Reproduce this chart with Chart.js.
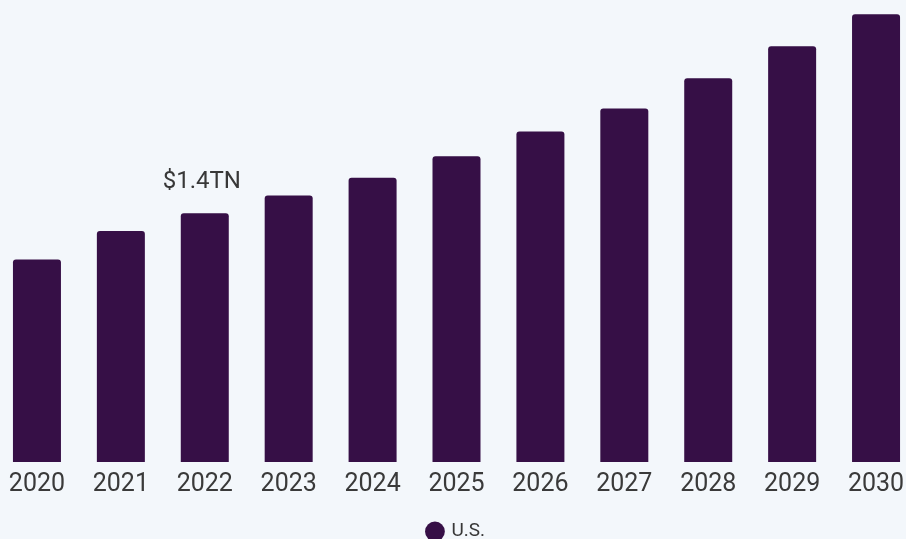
<!DOCTYPE html>
<html>
<head>
<meta charset="utf-8">
<script src="https://cdn.jsdelivr.net/npm/chart.js@4"></script>
<style>
  html, body { margin: 0; padding: 0; background: #f3f7fb; overflow: hidden; }
  #wrap { position: absolute; left: -5px; top: 0; width: 923px; height: 555px; }
</style>
</head>
<body>
<div id="wrap"><canvas id="chart"></canvas></div>
<script>
var years = ["2020", "2021", "2022", "2023", "2024", "2025", "2026", "2027", "2028", "2029", "2030"];
var usMarket = [1.14, 1.30, 1.40, 1.50, 1.60, 1.72, 1.86, 1.99, 2.16, 2.34, 2.52];
var seriesName = "U.S.";
var calloutIndex = 2;
var calloutText = "$1.4TN";

// draws the single value callout above one bar
var calloutPlugin = {
  id: "callout",
  afterDatasetsDraw: function (chart) {
    var ctx = chart.ctx;
    var x = chart.scales.x.getPixelForValue(calloutIndex);
    var y = chart.scales.y.getPixelForValue(usMarket[calloutIndex]);
    ctx.save();
    ctx.font = "24px Roboto";
    ctx.fillStyle = "#383838";
    ctx.textAlign = "center";
    ctx.textBaseline = "bottom";
    ctx.fillText(calloutText, x - 3, y - 19);
    ctx.restore();
  }
};

new Chart(document.getElementById("chart"), {
  type: "bar",
  data: {
    labels: years,
    datasets: [{
      label: seriesName,
      data: usMarket,
      backgroundColor: "#360f46",
      borderRadius: 3,
      borderSkipped: "bottom",
      categoryPercentage: 1,
      barPercentage: 0.572
    }]
  },
  options: {
    responsive: true,
    maintainAspectRatio: false,
    animation: false,
    layout: { padding: { top: 0, bottom: 4, left: 0, right: 0 } },
    plugins: {
      legend: {
        position: "bottom",
        labels: {
          usePointStyle: true,
          pointStyle: "circle",
          boxWidth: 14,
          boxHeight: 14,
          padding: 22,
          color: "#383838",
          font: { family: "Roboto", size: 19 }
        }
      },
      tooltip: { enabled: false }
    },
    scales: {
      x: {
        grid: { display: false },
        border: { display: false },
        ticks: {
          color: "#3a3a3a",
          padding: 0,
          maxRotation: 0,
          font: { family: "Roboto", size: 25 }
        }
      },
      y: {
        display: false,
        min: 0,
        max: 2.6
      }
    }
  },
  plugins: [calloutPlugin]
});
</script>
</body>
</html>
